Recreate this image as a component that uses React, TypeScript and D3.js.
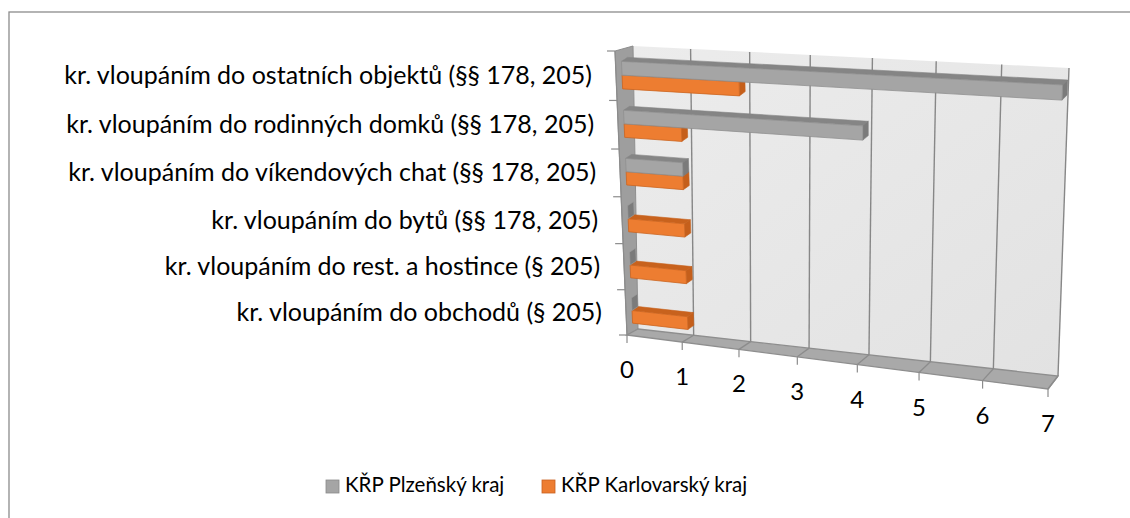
import React from 'react';
import * as d3 from 'd3';

// ---------- data ----------
const categories = [
  'kr. vloupáním do ostatních objektů (§§ 178, 205)',
  'kr. vloupáním do rodinných domků (§§ 178, 205)',
  'kr. vloupáním do víkendových chat (§§ 178, 205)',
  'kr. vloupáním do bytů (§§ 178, 205)',
  'kr. vloupáním do rest. a hostince (§ 205)',
  'kr. vloupáním do obchodů (§ 205)',
];
const seriesNames = ['KŘP Plzeňský kraj', 'KŘP Karlovarský kraj'];
const plzenValues = [7, 4, 1, 0, 0, 0];
const karlovarValues = [2, 1, 1, 1, 1, 1];
const valueTicks = [0, 1, 2, 3, 4, 5, 6, 7];

// ---------- styling ----------
const FONT = 'Lato, "Open Sans", sans-serif';
const GRAY = { front: '#a5a5a5', top: '#858585', end: '#7b7b7b', stroke: '#8f8f8f' };
const ORANGE = { front: '#ed7d31', top: '#c8621d', end: '#c55f1b', stroke: '#cc6420' };

type Pt = [number, number];

// projective map of the unit square onto a quad (p00, p10, p11, p01)
function quadMap(p00: Pt, p10: Pt, p11: Pt, p01: Pt) {
  const [x0, y0] = p00, [x1, y1] = p10, [x2, y2] = p11, [x3, y3] = p01;
  const dx1 = x1 - x2, dx2 = x3 - x2, dx3 = x0 - x1 + x2 - x3;
  const dy1 = y1 - y2, dy2 = y3 - y2, dy3 = y0 - y1 + y2 - y3;
  const den = dx1 * dy2 - dx2 * dy1;
  const g = (dx3 * dy2 - dx2 * dy3) / den;
  const h = (dx1 * dy3 - dx3 * dy1) / den;
  const a = x1 - x0 + g * x1, b = x3 - x0 + h * x3, c = x0;
  const d = y1 - y0 + g * y1, e = y3 - y0 + h * y3, f = y0;
  return (u: number, v: number): Pt => {
    const w = g * u + h * v + 1;
    return [(a * u + b * v + c) / w, (d * u + e * v + f) / w];
  };
}

const maxV = 7;
const nCat = categories.length;
const xScale = d3.scaleLinear().domain([0, maxV]).range([0, 1]);
const cScale = d3.scaleLinear().domain([0, nCat]).range([0, 1]);

// planes (value, category) -> screen
const frontQ = quadMap([615, 51], [1060, 77], [1048, 389], [627, 335]);
const backQ = quadMap([633, 46], [1069, 68], [1058, 376], [638, 329]);
const barFrontQ = quadMap([621, 50.5], [1063, 73], [1052, 382], [633, 333]);
const barBackQ = quadMap([627, 46.5], [1068, 68], [1057, 377], [639, 329]);

const P = (q: (u: number, v: number) => Pt) => (val: number, cat: number): Pt => q(xScale(val), cScale(cat));
const front = P(frontQ);
const back = P(backQ);
const bf = P(barFrontQ);
const bb = P(barBackQ);

const line = d3.line<Pt>();
const poly = (pts: Pt[]) => line(pts) + 'Z';

const BAR_START = 0.22;
const BAR_W = 0.28;

function Bar({ cat, s, value }: { cat: number; s: number; value: number }) {
  const col = s === 0 ? GRAY : ORANGE;
  const c0 = cat + BAR_START + s * BAR_W;
  const c1 = c0 + BAR_W;
  const frontFace = [bf(0, c0), bf(value, c0), bf(value, c1), bf(0, c1)];
  const topFace = [bf(0, c0), bf(value, c0), bb(value, c0), bb(0, c0)];
  const endFace = [bf(value, c0), bb(value, c0), bb(value, c1), bf(value, c1)];
  return (
    <g>
      {value > 0 && <path d={poly(topFace)} fill={col.top} stroke={col.top} strokeWidth={0.6} />}
      <path d={poly(endFace)} fill={col.end} stroke={value > 0 ? col.end : '#9a9a9a'} strokeWidth={0.6} />
      {value > 0 && <path d={poly(frontFace)} fill={col.front} stroke={col.stroke} strokeWidth={0.8} />}
    </g>
  );
}

export default function App() {
  const wall = poly([back(0, 0), back(maxV, 0), back(maxV, nCat), back(0, nCat)]);
  const side = poly([front(0, 0), back(0, 0), back(0, nCat), front(0, nCat)]);
  const floor = poly([back(0, nCat), back(maxV, nCat), front(maxV, nCat), front(0, nCat)]);
  const catTicks = d3.range(nCat + 1);

  return (
    <svg width={1130} height={518} style={{ position: 'absolute', left: 0, top: 0, background: '#fff' }}
      fontFamily={FONT}>
      <defs>
        <linearGradient id="wallGrad" x1="0" y1="0" x2="1" y2="1">
          <stop offset="0" stopColor="#ececec" />
          <stop offset="1" stopColor="#e2e2e2" />
        </linearGradient>
      </defs>
      <rect x={9} y={12} width={1200} height={600} fill="#fff" stroke="#8c8c8c" strokeWidth={1.3} />

      {/* walls */}
      <path d={wall} fill="url(#wallGrad)" />
      <path d={side} fill="#9e9e9e" stroke="#8e8e8e" strokeWidth={1} />
      <path d={floor} fill="#a9a9a9" stroke="#8e8e8e" strokeWidth={1.3} />

      {/* gridlines */}
      {valueTicks.filter(v => v > 0).map(v => (
        <g key={v}>
          <path d={line([back(v, 0), back(v, nCat)])!} stroke="#878787" strokeWidth={1.4} fill="none" />
          <path d={line([back(v, nCat), front(v, nCat)])!} stroke="#8c8c8c" strokeWidth={1.3} fill="none" />
        </g>
      ))}

      {/* value ticks and labels */}
      {valueTicks.map(v => {
        const p = front(v, nCat);
        return (
          <g key={v}>
            <line x1={p[0]} y1={p[1]} x2={p[0]} y2={p[1] + 8} stroke="#8c8c8c" strokeWidth={1.2} />
            <text x={p[0]} y={p[1] + 37} textAnchor="middle" dominantBaseline="middle" fontSize={24} fill="#000">{v}</text>
          </g>
        );
      })}

      {/* category axis */}
      <path d={line([front(0, 0), front(0, nCat)])!} stroke="#8c8c8c" strokeWidth={1.2} fill="none" />
      {catTicks.map(c => {
        const p = front(0, c);
        return <line key={c} x1={p[0] - 8} y1={p[1]} x2={p[0]} y2={p[1]} stroke="#8c8c8c" strokeWidth={1.2} />;
      })}
      {categories.map((name, i) => {
        const p = front(0, i + 0.5);
        return (
          <text key={name} x={p[0] - 24} y={p[1] + 2} textAnchor="end" dominantBaseline="middle" fontSize={25} fill="#000">{name}</text>
        );
      })}

      {/* bars: orange first, gray on top */}
      {categories.map((name, i) => (
        <g key={name}>
          <Bar cat={i} s={1} value={karlovarValues[i]} />
          <Bar cat={i} s={0} value={plzenValues[i]} />
        </g>
      ))}

      {/* legend */}
      <rect x={326} y={480} width={13} height={13} fill={GRAY.front} stroke="#8a8a8a" strokeWidth={0.8} />
      <text x={345} y={487} dominantBaseline="middle" fontSize={20.5}>{seriesNames[0]}</text>
      <rect x={542} y={480} width={13} height={13} fill={ORANGE.front} stroke="#c96020" strokeWidth={0.8} />
      <text x={561} y={487} dominantBaseline="middle" fontSize={20.5}>{seriesNames[1]}</text>
    </svg>
  );
}
